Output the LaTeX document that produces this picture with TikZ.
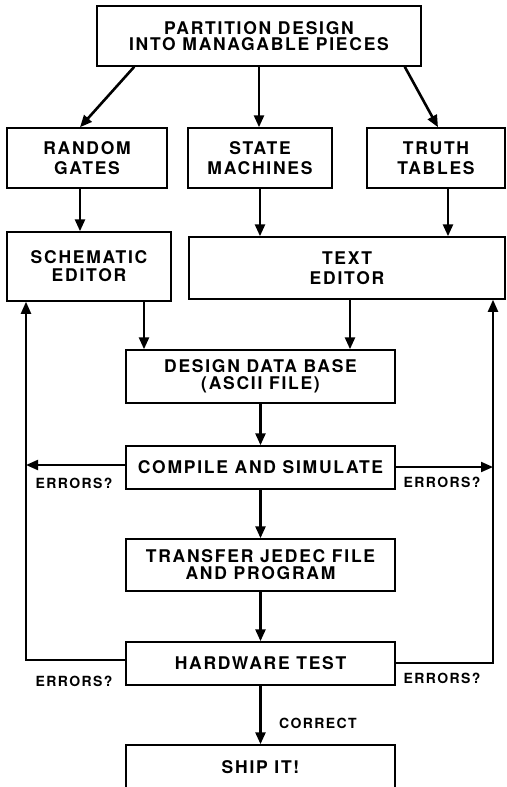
\documentclass[tikz,border=0pt]{standalone}
\usepackage{fontspec}
\usetikzlibrary{arrows.meta}
\newfontfamily\boxfont[LetterSpace=10]{TeX Gyre Heros}

\tikzset{
	stepbox/.style={draw, line width=1.5pt, inner sep=0pt, align=center,
		font=\boxfont\bfseries\fontsize{17.5}{#1}\selectfont},
	stepbox/.default=17,
	flow/.style={line width=2.6pt, -{Triangle[length=12pt,width=10pt]}},
	loopback/.style={line width=2pt, -{Triangle[length=12pt,width=10pt]}},
	errlabel/.style={inner sep=0pt, font=\boxfont\bfseries\fontsize{14}{14}\selectfont}
}

\begin{document}
\begin{tikzpicture}[x=1pt, y=-1pt]
			%%%%% START %%%%%
			\useasboundingbox (0, 0) rectangle (506, 787);
			
			\node[stepbox=16, minimum width=324pt, minimum height=60pt] (part) at (259, 36) {PARTITION DESIGN\\INTO MANAGABLE PIECES};
			
			\node[stepbox=20, minimum width=160pt, minimum height=60pt] (gates) at (87, 158) {RANDOM\\GATES};
			\node[stepbox=20, minimum width=144pt, minimum height=60pt] (state) at (260, 158) {STATE\\MACHINES};
			\node[stepbox=20, minimum width=138pt, minimum height=60pt] (truth) at (436, 158) {TRUTH\\TABLES};
			
			\node[stepbox=18, minimum width=164pt, minimum height=69pt] (schem) at (89, 266.5) {SCHEMATIC\\EDITOR};
			\node[stepbox=20, minimum width=316pt, minimum height=62pt] (text) at (347, 268) {TEXT\\EDITOR};
			
			\node[stepbox, minimum width=269pt, minimum height=53pt] (base) at (260.5, 376.5) {DESIGN DATA BASE\\(ASCII FILE)};
			\node[stepbox, minimum width=269pt, minimum height=43pt] (comp) at (260.5, 467.5) {COMPILE AND SIMULATE};
			\node[stepbox, minimum width=269pt, minimum height=52pt] (jedec) at (260.5, 565) {TRANSFER JEDEC FILE\\AND PROGRAM};
			\node[stepbox, minimum width=269pt, minimum height=43pt] (hw) at (260.5, 663.5) {HARDWARE TEST};
			\node[stepbox, minimum width=269pt, minimum height=44pt] (ship) at (260.5, 767) {SHIP IT!};
			
			\coordinate (lb) at (26, 0);
			\coordinate (rb) at (493, 0);
			
			% partition into the three kinds of pieces
			\draw[flow] ([xshift=38]part.south west) -- ([xshift=-7]gates.north);
			\draw[flow] (part.south) -- (part.south |- state.north);
			\draw[flow] ([xshift=-17]part.south east) -- ([xshift=2]truth.north);
			
			\draw[flow] ([xshift=-7]gates.south) -- ([xshift=-7]gates.south |- schem.north);
			\draw[flow] (state.south) -- (state.south |- text.north);
			\draw[flow] ([xshift=12]truth.south) -- ([xshift=12]truth.south |- text.north);
			
			\draw[flow] ([xshift=55]schem.south) -- ([xshift=55]schem.south |- base.north);
			\draw[flow] ([xshift=3]text.south) -- ([xshift=3]text.south |- base.north);
			
			\draw[flow] (base.south) -- (comp.north);
			\draw[flow] (comp.south) -- (jedec.north);
			\draw[flow] (jedec.south) -- (hw.north);
			\draw[flow] (hw.south) -- (ship.north);
			
			% errors go back to the editors
			\draw[loopback] ([yshift=2.5]comp.west) -- ([yshift=2.5]comp.west -| lb);
			\draw[loopback] ([yshift=0.5]comp.east) -- ([yshift=0.5]comp.east -| rb);
			\draw[loopback] ([yshift=3.5]hw.west) -| (lb |- schem.south);
			\draw[loopback] ([yshift=0.5]hw.east) -| (rb |- text.south);
			
			\node[errlabel] (err1) at (74, 483) {ERRORS?};
			\node[errlabel] (err2) at (442, 482) {ERRORS?};
			\node[errlabel] (err3) at (74, 681) {ERRORS?};
			\node[errlabel] (err4) at (442, 678) {ERRORS?};
			\node[errlabel] (ok) at (318, 723) {CORRECT};
			
			%%%%% END %%%%%
		\end{tikzpicture}
\end{document}
